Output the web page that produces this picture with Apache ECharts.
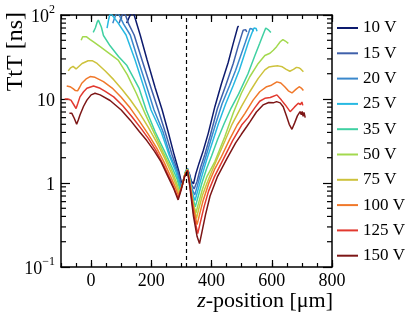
<!DOCTYPE html>
<html>
<head>
<meta charset="utf-8">
<script src="https://cdn.jsdelivr.net/npm/echarts@6/dist/echarts.min.js"></script>
<style>html,body{margin:0;padding:0;background:#fff}#c{width:415px;height:318px}</style>
</head>
<body>
<div id="c"></div>
<script>
// ---- data (z-position in µm, TtT in ns) ----
const seriesNames = ['10 V','15 V','20 V','25 V','35 V','50 V','75 V','100 V','125 V','150 V'];
const seriesColors = ['#0d1b6e','#3f60aa','#3a88cc','#27b9e2','#3fd0a2','#a3d94e','#cdc23c','#f0782a','#e2392f','#7d1616'];
const tt10 = [[118,80],[124,90],[130,100],[136,107],[143,100],[152,78],[163,57.8],[186,29.1],[213,13.5],[236,7.4],[256,4.05],[276,2.15],[292,1.35],[302,0.95],[310,1.2],[316,1.42],[320,1.5],[326,1.3],[333,1.05],[340,0.98],[348,1.3],[358,1.7],[372,2.4],[389,3.9],[411,8.1],[433,15.3],[455,27],[472,46],[487,72],[490,74]];
const tt15 = [[93,80],[98,90],[103,100],[108,106],[114,100],[125,78],[143,57.8],[169,29.1],[199,13.5],[223,7.4],[246,4.05],[269,2.15],[289,1.35],[301,0.91],[309,1.15],[315,1.4],[320,1.49],[326,1.28],[334,0.95],[342,0.85],[352,1.05],[364,1.55],[378,2.2],[396,3.7],[419,7.6],[447,14.5],[472,26.5],[488,42],[500,58],[505,66],[509,64],[513,67],[517,63]];
const tt20 = [[72,80],[77,90],[82,100],[87,106],[93,100],[108,78],[130,57.8],[156,29.1],[186,13.5],[209,7.4],[239,4.05],[262,2.15],[286,1.35],[299,0.88],[308,1.12],[315,1.4],[320,1.48],[326,1.25],[335,0.85],[344,0.72],[352,0.9],[364,1.3],[380,2.0],[398,3.3],[414,5.1],[435,8.8],[460,14.5],[480,22],[497,33],[512,47],[522,60],[528,69],[532,66],[535,68],[539,64]];
const tt25 = [[53,70],[57,84],[61,98],[66,104],[72,100],[90,80],[116,57.8],[146,29.1],[176,13.5],[199,7.4],[233,4.05],[259,2.15],[282,1.35],[297,0.85],[307,1.1],[314,1.38],[320,1.47],[326,1.22],[335,0.78],[345,0.62],[353,0.78],[366,1.15],[384,1.9],[402,3.0],[423,5.1],[447,8.8],[472,14.5],[492,22],[508,33],[522,47],[534,61],[541,70],[545,67],[548,69],[551,64]];
const tt35 = [[7,62],[14,70],[20,82],[24,87],[28,84],[34,72],[41,57],[63,43],[91,32],[119,25],[159,13.5],[183,7.4],[213,4.05],[246,2.3],[272,1.45],[286,1.1],[296,0.82],[306,1.05],[314,1.36],[320,1.46],[327,1.15],[336,0.7],[346,0.52],[355,0.68],[368,1.0],[384,1.5],[400,2.1],[420,3.3],[442,5.1],[465,7.8],[490,11.5],[521,20],[544,33],[560,46],[570,57],[580,70],[585,67],[590,66],[597,62]];
const tt50 = [[-33,50],[-28,55],[-23,58],[-15,55],[-3,51],[8,47.9],[30,42],[60,35],[90,29.1],[120,19.5],[150,11.7],[180,6.6],[210,3.9],[240,2.3],[265,1.5],[282,1.05],[294,0.78],[305,1.0],[313,1.33],[320,1.45],[327,1.1],[337,0.62],[348,0.44],[357,0.58],[370,0.85],[385,1.2],[411,1.8],[444,3.56],[472,6.8],[499,11.7],[527,18.4],[555,26.5],[577,33],[594,35],[605,38],[616,42],[628,48],[637,51],[645,49],[650,47],[655,46]];
const tt75 = [[-76,21.6],[-68,23.5],[-60,24.5],[-50,22.8],[-44,23.3],[-30,26.5],[-10,28.5],[5,28.5],[20,26.5],[47,21.5],[75,17],[103,13],[130,9.8],[160,6.9],[190,4.6],[218,3.05],[245,1.95],[268,1.28],[282,0.95],[292,0.74],[303,0.95],[312,1.3],[320,1.44],[328,1.05],[338,0.58],[350,0.38],[358,0.5],[370,0.72],[385,1.0],[400,1.35],[420,2.0],[445,3.2],[468,5.0],[499,8.1],[527,12.2],[555,17.6],[577,22.2],[590,24.0],[605,24.5],[621,24.8],[635,24.2],[648,22.5],[660,21.4],[672,22.5],[682,23.8],[689,23.6],[696,22.8],[700,24.0],[705,21.1]];
const tt100 = [[-81,14.3],[-70,14.0],[-60,13.3],[-52,12.6],[-45,12.5],[-38,13.8],[-31,15.4],[-15,17.5],[-3,18.5],[13,18.1],[41,16.1],[70,13.5],[100,10.5],[130,7.8],[160,5.5],[190,3.8],[218,2.6],[243,1.75],[265,1.18],[280,0.88],[291,0.70],[302,0.92],[311,1.25],[320,1.43],[328,1.0],[340,0.5],[352,0.32],[360,0.42],[372,0.62],[391,1.0],[410,1.45],[431,2.0],[460,3.3],[485,4.9],[511,6.75],[538,9.7],[560,12.2],[583,14.0],[599,14.6],[617,16.0],[630,15.5],[643,14.0],[655,12.5],[667,11.8],[680,13.0],[691,14.0],[698,13.5],[705,12.6]];
const tt125 = [[-88,10],[-78,10],[-67,9.7],[-58,8.6],[-50,7.7],[-44,8.9],[-37,10.6],[-25,12.2],[-14,13.4],[8,14.3],[30,13.4],[47,12.3],[75,10.6],[105,8.3],[135,6.2],[165,4.5],[190,3.4],[215,2.45],[240,1.65],[262,1.12],[278,0.82],[289,0.66],[301,0.9],[311,1.22],[320,1.42],[328,0.95],[341,0.42],[354,0.25],[362,0.33],[375,0.52],[390,0.8],[410,1.2],[440,1.95],[470,3.2],[500,4.9],[521,6.0],[544,7.9],[560,9.4],[577,10.2],[595,10.4],[617,11.2],[632,9.7],[645,8.5],[661,7.07],[675,8.0],[688,8.9],[695,8.6],[700,9.2],[703,8.4]];
const tt150 = [[-72,6.75],[-64,6.75],[-56,5.9],[-48,5.0],[-42,5.7],[-37,6.44],[-25,8.2],[-14,9.7],[0,11.2],[13,11.7],[30,11.2],[63,9.6],[100,7.4],[130,5.6],[160,4.1],[185,3.2],[210,2.4],[232,1.8],[255,1.2],[275,0.85],[289,0.63],[300,0.85],[310,1.18],[320,1.4],[328,0.9],[340,0.4],[352,0.23],[360,0.19],[368,0.26],[380,0.42],[395,0.7],[420,1.2],[451,1.95],[480,3.0],[499,3.8],[517,4.7],[527,5.3],[549,7.0],[571,8.5],[590,9.1],[605,9.0],[616,9.3],[628,9.0],[638,8.1],[648,6.4],[658,5.0],[667,4.36],[676,5.2],[685,6.3],[694,7.07],[698,6.5],[701,7.1],[704,6.2],[707,6.9],[711,6.0]];
const seriesData = [tt10, tt15, tt20, tt25, tt35, tt50, tt75, tt100, tt125, tt150];
const dashedZ = 315;
const xMajorTicks = [0, 200, 400, 600, 800];
const yMinorTickValues = [0.2,0.3,0.4,0.5,0.6,0.7,0.8,0.9,2,3,4,5,6,7,8,9,20,30,40,50,60,70,80,90];

// ---- chart ----
const FONT = 'Liberation Serif';
const chart = echarts.init(document.getElementById('c'), null, {renderer: 'canvas'});
const black = '#000';
const X_MIN = -100, X_MAX = 800;

function xAxisCfg(pos, major, showLabel, showLine) {
  const a = {
    type: 'value', min: X_MIN, max: X_MAX, position: pos,
    axisLine: {show: showLine, onZero: false, lineStyle: {color: black, width: 1.5}},
    splitLine: {show: false},
    axisLabel: {show: false}
  };
  if (major) {
    a.axisTick = {show: true, inside: true, length: 7, customValues: xMajorTicks, lineStyle: {color: black, width: 1.2}};
    if (showLabel) a.axisLabel = {show: true, customValues: xMajorTicks, fontFamily: FONT, fontSize: 18, color: black, margin: 5};
  } else {
    a.interval = 50;
    a.axisTick = {show: true, inside: true, length: 4, lineStyle: {color: black, width: 1.2}};
  }
  return a;
}
function yAxisCfg(pos, showLabel) {
  const a = {
    type: 'log', logBase: 10, min: 0.1, max: 100, position: pos,
    axisLine: {show: true, onZero: false, lineStyle: {color: black, width: 1.5}},
    axisTick: {show: true, inside: true, length: 9, lineStyle: {color: black, width: 1.2}},
    splitLine: {show: false},
    axisLabel: {show: false}
  };
  if (showLabel) {
    a.axisLabel = {
      show: true, margin: 6, fontFamily: FONT, fontSize: 18, color: black,
      formatter: function (v) {
        const e = Math.round(Math.log10(v));
        if (e === 0) return '{b|1}';
        if (e === 1) return '{b|10}';
        return '{b|10}{s|' + (e < 0 ? '\u2212' + (-e) : e) + '}';
      },
      rich: {
        b: {fontFamily: FONT, fontSize: 18, color: black, lineHeight: 22, verticalAlign: 'bottom'},
        s: {fontFamily: FONT, fontSize: 12, color: black, lineHeight: 22, verticalAlign: 'top'}
      }
    };
  }
  return a;
}

const series = seriesData.map((d, i) => ({
  name: seriesNames[i],
  type: 'line',
  data: d,
  xAxisIndex: 0, yAxisIndex: 0,
  symbol: 'none', smooth: false, clip: true,
  lineStyle: {color: seriesColors[i], width: 1.5},
  itemStyle: {color: seriesColors[i]},
  z: 3,
  animation: false
}));
series[0].markLine = {
  silent: true, symbol: ['none', 'none'], animation: false,
  label: {show: false},
  lineStyle: {color: black, type: [4, 3], width: 1.2},
  data: [{xAxis: dashedZ}]
};
// minor log ticks on left and right axes, placed through the log scale
series.push({
  type: 'custom',
  name: 'minorTicks',
  xAxisIndex: 0, yAxisIndex: 0,
  silent: true, clip: false, z: 5,
  data: yMinorTickValues.map(v => [X_MIN, v]),
  encode: {x: 0, y: 1},
  renderItem: function (params, api) {
    const v = api.value(1);
    const pL = api.coord([X_MIN, v]);
    const pR = api.coord([X_MAX, v]);
    const st = {stroke: black, lineWidth: 1.2};
    return {
      type: 'group',
      children: [
        {type: 'line', shape: {x1: pL[0], y1: pL[1], x2: pL[0] + 5, y2: pL[1]}, style: st},
        {type: 'line', shape: {x1: pR[0] - 5, y1: pR[1], x2: pR[0], y2: pR[1]}, style: st}
      ]
    };
  }
});

chart.setOption({
  animation: false,
  backgroundColor: '#fff',
  textStyle: {fontFamily: FONT},
  grid: {left: 61, right: 83, top: 15, bottom: 51, containLabel: false},
  xAxis: [
    xAxisCfg('bottom', true, true, true),
    xAxisCfg('bottom', false, false, false),
    xAxisCfg('top', true, false, true),
    xAxisCfg('top', false, false, false)
  ],
  yAxis: [
    yAxisCfg('left', true),
    yAxisCfg('right', false)
  ],
  legend: {
    orient: 'vertical', left: 337, top: 18, padding: 0,
    itemWidth: 21, itemHeight: 2, itemGap: 5.3, icon: 'rect',
    textStyle: {fontFamily: FONT, fontSize: 17, color: black, lineHeight: 20},
    data: seriesNames,
    selectedMode: false
  },
  graphic: [
    {
      type: 'text', x: 333, y: 301,
      style: {
        text: '{i|z}-position [\u03bcm]', align: 'right', verticalAlign: 'middle',
        fontFamily: FONT, fontSize: 22, fill: black,
        rich: {i: {fontFamily: FONT, fontSize: 22, fontStyle: 'italic', fill: black}}
      }
    },
    {
      type: 'text', x: 16, y: 12, rotation: Math.PI / 2,
      style: {
        text: 'TtT [ns]', align: 'right', verticalAlign: 'middle',
        fontFamily: FONT, fontSize: 24, fill: black
      }
    }
  ],
  series: series
});
</script>
</body>
</html>
